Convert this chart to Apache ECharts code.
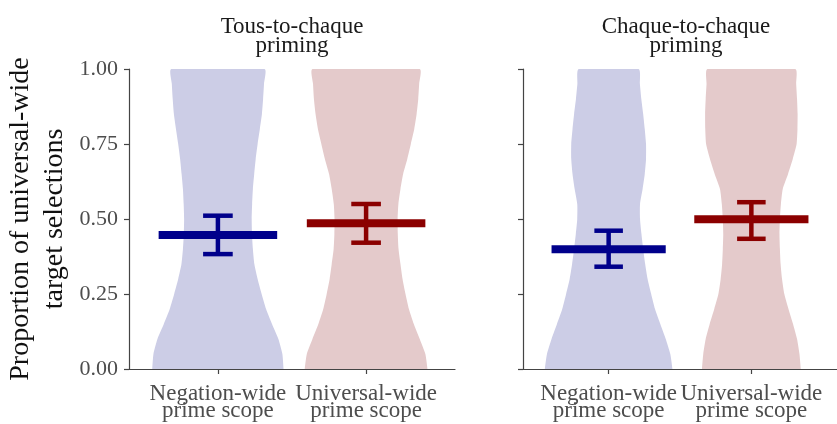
<!DOCTYPE html>
<html>
<head>
<meta charset="utf-8">
<script src="https://cdn.jsdelivr.net/npm/echarts@6/dist/echarts.min.js"></script>
<style>
  html, body { margin: 0; padding: 0; background: #fff; }
  #main { width: 837px; height: 424px; }
</style>
</head>
<body>
<div id="main"></div>
<script>
// facet titles and x categories
const panelTitles = ["Tous-to-chaque\npriming", "Chaque-to-chaque\npriming"];
const scopes = ["Negation-wide\nprime scope", "Universal-wide\nprime scope"];

// violin outline: half width (in x units) at each proportion level
const levels = [0, 0.05, 0.1, 0.15, 0.2, 0.25, 0.3, 0.35, 0.4, 0.45, 0.5,
  0.55, 0.6, 0.65, 0.7, 0.75, 0.8, 0.85, 0.9, 0.95, 1];
const tousNeg = [0.443, 0.435, 0.408, 0.365, 0.325, 0.295, 0.268, 0.246, 0.236, 0.230, 0.228,
  0.231, 0.236, 0.245, 0.255, 0.268, 0.283, 0.297, 0.305, 0.311, 0.315];
const tousUni = [0.414, 0.400, 0.362, 0.322, 0.289, 0.266, 0.246, 0.232, 0.219, 0.214, 0.213,
  0.218, 0.232, 0.250, 0.278, 0.302, 0.325, 0.341, 0.352, 0.358, 0.362];
const chaqueNeg = [0.447, 0.432, 0.400, 0.362, 0.325, 0.298, 0.273, 0.256, 0.242, 0.230, 0.220,
  0.220, 0.238, 0.253, 0.262, 0.262, 0.253, 0.242, 0.229, 0.219, 0.210];
const chaqueUni = [0.346, 0.337, 0.320, 0.292, 0.260, 0.231, 0.215, 0.205, 0.200, 0.197, 0.200,
  0.207, 0.220, 0.257, 0.290, 0.317, 0.323, 0.324, 0.320, 0.314, 0.308];

// means with 95% CI
const tousMean = [0.447, 0.486];
const tousLow = [0.383, 0.421];
const tousHigh = [0.511, 0.550];
const chaqueMean = [0.399, 0.499];
const chaqueLow = [0.341, 0.434];
const chaqueHigh = [0.461, 0.556];

const lineCol = "#444";
const fills = ["#CCCDE6", "#E4CACB"];
const darks = ["#00008B", "#8B0000"];
const font = "'Liberation Serif', 'Times New Roman', serif";

var myChart = echarts.init(document.getElementById("main"));

function violinItem(params, api) {
  var x = api.value(0);
  var widths = params.seriesIndex == 0 ? [tousNeg, tousUni][params.dataIndex] : [chaqueNeg, chaqueUni][params.dataIndex];
  var pts = [];
  for (var i = 0; i < levels.length; i++) pts.push(api.coord([x + widths[i], levels[i]]));
  for (var j = levels.length - 1; j >= 0; j--) pts.push(api.coord([x - widths[j], levels[j]]));
  // keep the smoothed outline inside the violin's box
  var minP = [Infinity, Infinity], maxP = [-Infinity, -Infinity];
  pts.forEach(function (p) {
    minP[0] = Math.min(minP[0], p[0]); minP[1] = Math.min(minP[1], p[1]);
    maxP[0] = Math.max(maxP[0], p[0]); maxP[1] = Math.max(maxP[1], p[1]);
  });
  return {
    type: "polygon",
    shape: { points: pts, smooth: 0.2, smoothConstraint: [minP, maxP] },
    style: { fill: fills[params.dataIndex] }
  };
}

function meanItem(params, api) {
  var x = api.value(0), m = api.value(1), lo = api.value(2), hi = api.value(3);
  var col = darks[params.dataIndex];
  var seg = function (a, b, w) {
    var p1 = api.coord(a), p2 = api.coord(b);
    return {
      type: "line",
      shape: { x1: p1[0], y1: p1[1], x2: p2[0], y2: p2[1] },
      style: { stroke: col, lineWidth: w, lineCap: "butt" }
    };
  };
  return {
    type: "group",
    children: [
      seg([x, lo], [x, hi], 4.5),
      seg([x - 0.1, lo], [x + 0.1, lo], 4.5),
      seg([x - 0.1, hi], [x + 0.1, hi], 4.5),
      seg([x - 0.4, m], [x + 0.4, m], 8)
    ]
  };
}

function xAxisFor(idx) {
  return {
    type: "value", gridIndex: idx, min: 0.4, max: 2.6,
    axisLine: { show: true, lineStyle: { color: lineCol, width: 1.2 } },
    axisTick: { show: true, length: 5, customValues: [1, 2], lineStyle: { color: lineCol, width: 1.2 } },
    axisLabel: {
      customValues: [1, 2], margin: 16,
      formatter: function (v) { return scopes[Math.round(v) - 1]; },
      fontFamily: font, fontSize: 23, color: "#4d4d4d", lineHeight: 17
    },
    splitLine: { show: false }
  };
}

function yAxisFor(idx) {
  return {
    type: "value", gridIndex: idx, min: 0, max: 1, interval: 0.25,
    axisLine: { show: true, lineStyle: { color: lineCol, width: 1.2 } },
    axisTick: { show: true, length: 5, lineStyle: { color: lineCol, width: 1.2 } },
    axisLabel: {
      show: idx == 0, margin: 11,
      formatter: function (v) { return v.toFixed(2); },
      fontFamily: font, fontSize: 22, color: "#4d4d4d"
    },
    splitLine: { show: false }
  };
}

var yLeft = yAxisFor(0);
yLeft.name = "Proportion of universal-wide\ntarget selections";
yLeft.nameLocation = "middle";
yLeft.nameRotate = 90;
yLeft.nameGap = 57;
yLeft.nameTextStyle = { fontFamily: font, fontSize: 28, color: "#111", lineHeight: 34 };

option = {
  animation: false,
  backgroundColor: "#fff",
  grid: [
    { left: 129, top: 69, width: 326, height: 300 },
    { left: 523, top: 69, width: 325, height: 300 }
  ],
  xAxis: [xAxisFor(0), xAxisFor(1)],
  yAxis: [yLeft, yAxisFor(1)],
  graphic: [
    { type: "text", x: 292, y: 36, style: { text: panelTitles[0], font: "23px " + font, fill: "#1a1a1a", textAlign: "center", textVerticalAlign: "middle", lineHeight: 19 } },
    { type: "text", x: 686, y: 36, style: { text: panelTitles[1], font: "23px " + font, fill: "#1a1a1a", textAlign: "center", textVerticalAlign: "middle", lineHeight: 19 } }
  ],
  series: [
    { type: "custom", xAxisIndex: 0, yAxisIndex: 0, renderItem: violinItem, z: 1,
      encode: { x: 0, y: 1 }, data: [[1, 0], [2, 1]] },
    { type: "custom", xAxisIndex: 1, yAxisIndex: 1, renderItem: violinItem, z: 1,
      encode: { x: 0, y: 1 }, data: [[1, 0], [2, 1]] },
    { type: "custom", xAxisIndex: 0, yAxisIndex: 0, renderItem: meanItem, z: 3,
      encode: { x: 0, y: 1 },
      data: [1, 2].map(function (c, i) { return [c, tousMean[i], tousLow[i], tousHigh[i]]; }) },
    { type: "custom", xAxisIndex: 1, yAxisIndex: 1, renderItem: meanItem, z: 3,
      encode: { x: 0, y: 1 },
      data: [1, 2].map(function (c, i) { return [c, chaqueMean[i], chaqueLow[i], chaqueHigh[i]]; }) }
  ]
};
myChart.setOption(option);
</script>
</body>
</html>
